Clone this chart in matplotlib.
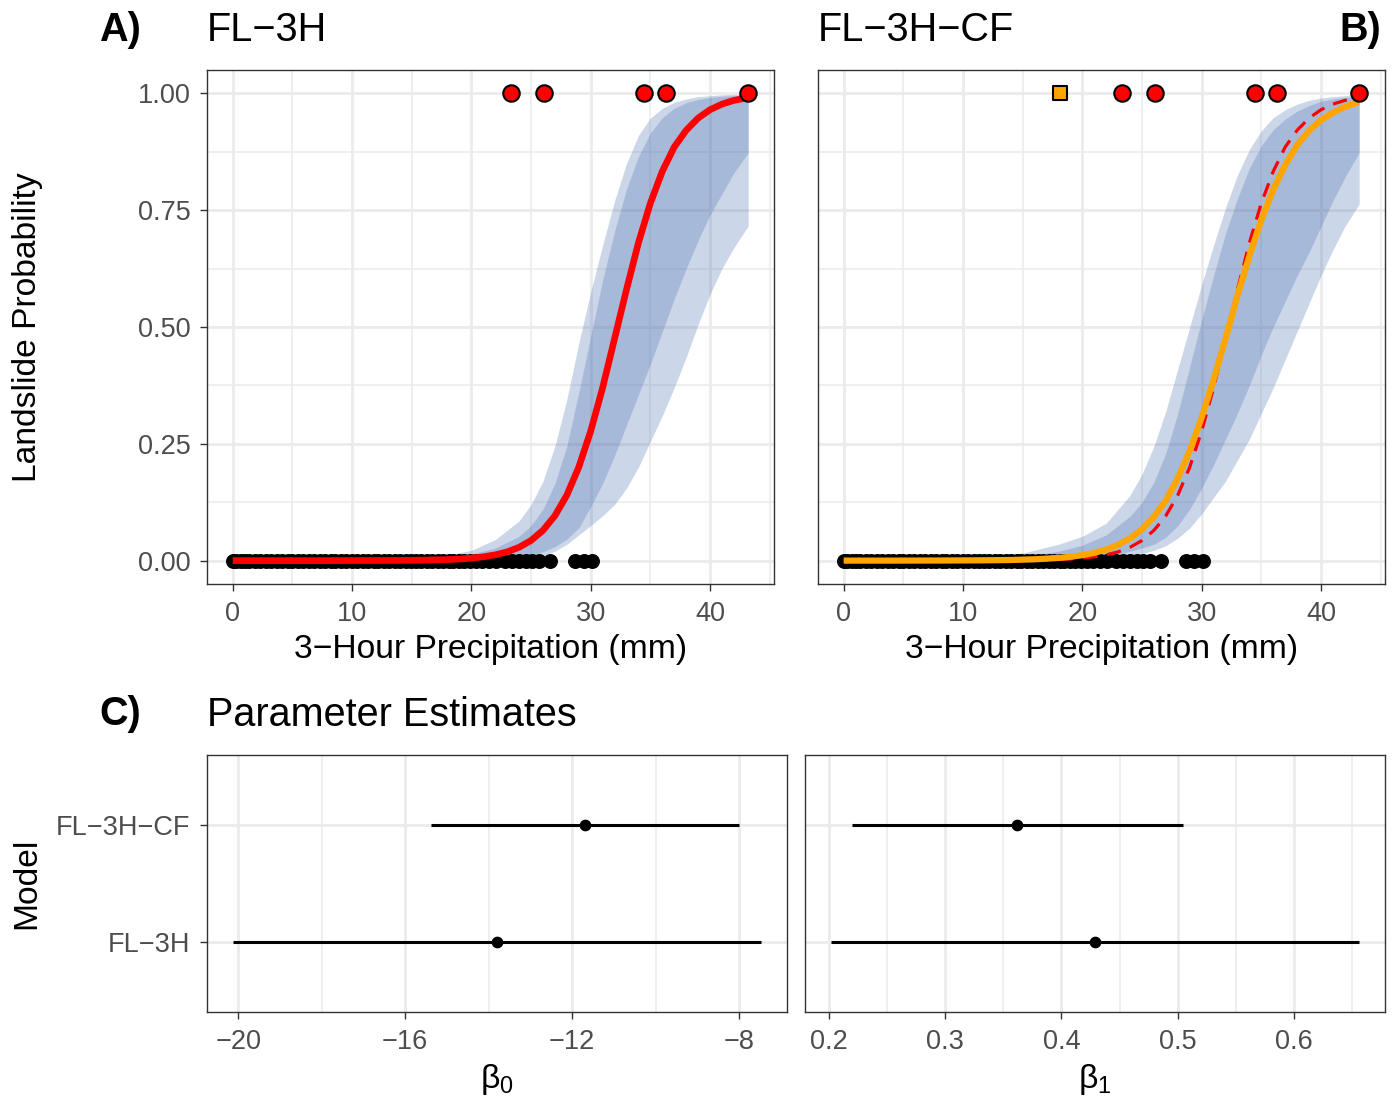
import numpy as np
import matplotlib
matplotlib.use("Agg")
import matplotlib.pyplot as plt
from matplotlib.ticker import MultipleLocator, FormatStrFormatter

plt.rcParams['font.family'] = ['Liberation Sans', 'DejaVu Sans']
plt.rcParams['mathtext.fontset'] = 'custom'
plt.rcParams['mathtext.rm'] = 'Liberation Sans'
plt.rcParams['mathtext.it'] = 'Liberation Sans:italic'
plt.rcParams['mathtext.bf'] = 'Liberation Sans:bold'

# ---- observations (3-hour precipitation, mm) ----
no_slide_precip = [0.0, 0.3, 0.7, 1.0, 1.4, 1.9, 2.3, 2.8, 3.2, 3.7, 4.1, 4.6, 5.0,
                   5.5, 5.9, 6.4, 6.8, 7.3, 7.7, 8.2, 8.6, 9.1, 9.5, 10.0, 10.4,
                   10.9, 11.3, 11.8, 12.2, 12.7, 13.1, 13.6, 14.0, 14.5, 14.9,
                   15.4, 15.8, 16.3, 16.7, 17.2, 17.6, 18.1, 18.5, 19.0, 19.4,
                   19.9, 20.4, 20.9, 21.5, 22.1, 22.8, 23.4, 24.0, 24.6, 25.1,
                   25.7, 26.6, 28.7, 29.4, 30.1]
slide_precip = [23.3, 26.05, 34.5, 36.3, 43.2]
cf_precip = [18.1]

# ---- fitted probability curves ----
curve_x = [0, 4, 8, 12, 14, 16, 18, 19, 20, 21, 22, 23, 24, 25, 26, 27, 28,
           29, 30, 31, 32, 33, 34, 35, 36, 37, 38, 39, 40, 41, 42, 43, 43.2]
fit_3h = [0.0, 0.0, 0.0, 0.0002, 0.0004, 0.001, 0.0022, 0.0034, 0.0053, 0.0081,
          0.0124, 0.0187, 0.0285, 0.0431, 0.0647, 0.096, 0.14, 0.2, 0.277, 0.37,
          0.475, 0.58, 0.68, 0.765, 0.833, 0.885, 0.921, 0.947, 0.965, 0.977,
          0.985, 0.99, 0.991]
fit_3h_cf = [0.0, 0.0, 0.0002, 0.0007, 0.0013, 0.0028, 0.0057, 0.0082, 0.0117,
             0.0166, 0.0237, 0.0339, 0.0478, 0.0672, 0.0937, 0.129, 0.176, 0.235,
             0.306, 0.387, 0.475, 0.567, 0.652, 0.729, 0.794, 0.847, 0.889, 0.92,
             0.943, 0.959, 0.971, 0.98, 0.981]

# ---- credible bands ----
band_x = [0, 5, 10, 15, 18, 20, 22, 24, 25, 26, 27, 28, 29, 30, 31, 32, 33, 34,
          35, 36, 37, 38, 39, 40, 41, 42, 43.2]
a_outer_hi = [0.0, 0.0005, 0.0015, 0.004, 0.012, 0.022, 0.045, 0.085, 0.12, 0.17,
              0.245, 0.345, 0.465, 0.575, 0.675, 0.77, 0.85, 0.91, 0.947, 0.968,
              0.981, 0.988, 0.993, 0.995, 0.997, 0.998, 0.999]
a_inner_hi = [0.0, 0.0002, 0.0008, 0.002, 0.008, 0.014, 0.027, 0.052, 0.075, 0.11,
              0.165, 0.245, 0.36, 0.48, 0.6, 0.705, 0.795, 0.865, 0.915, 0.948,
              0.968, 0.98, 0.987, 0.991, 0.994, 0.995, 0.997]
a_inner_lo = [0.0, 0.0, 0.0, 0.0, 0.0, 0.0005, 0.002, 0.008, 0.012, 0.019, 0.03,
              0.046, 0.07, 0.115, 0.165, 0.225, 0.29, 0.355, 0.42, 0.49, 0.56,
              0.625, 0.685, 0.74, 0.785, 0.83, 0.873]
a_outer_lo = [0.0, 0.0, 0.0, 0.0, 0.0, 0.0002, 0.001, 0.004, 0.007, 0.011, 0.02,
              0.035, 0.055, 0.075, 0.096, 0.12, 0.155, 0.2, 0.255, 0.31, 0.37,
              0.435, 0.505, 0.57, 0.625, 0.67, 0.716]

b_outer_hi = [0.0, 0.002, 0.005, 0.016, 0.035, 0.052, 0.08, 0.14, 0.185, 0.245,
              0.32, 0.41, 0.5, 0.59, 0.675, 0.755, 0.825, 0.88, 0.92, 0.948,
              0.965, 0.977, 0.985, 0.99, 0.993, 0.995, 0.997]
b_inner_hi = [0.0, 0.0, 0.002, 0.008, 0.02, 0.033, 0.055, 0.095, 0.125, 0.168,
              0.23, 0.315, 0.415, 0.515, 0.61, 0.7, 0.775, 0.84, 0.888, 0.922,
              0.945, 0.962, 0.974, 0.983, 0.988, 0.991, 0.994]
b_inner_lo = [0.0, 0.0, 0.0, 0.0, 0.0, 0.002, 0.008, 0.02, 0.027, 0.035, 0.05,
              0.075, 0.11, 0.155, 0.205, 0.26, 0.315, 0.375, 0.44, 0.5, 0.555,
              0.61, 0.66, 0.715, 0.77, 0.82, 0.873]
b_outer_lo = [0.0, 0.0, 0.0, 0.0, 0.0, 0.001, 0.004, 0.01, 0.015, 0.022, 0.032,
              0.048, 0.07, 0.1, 0.135, 0.17, 0.215, 0.26, 0.315, 0.37, 0.43,
              0.49, 0.55, 0.61, 0.665, 0.715, 0.763]

# ---- parameter estimates ----
models = ['FL−3H', 'FL−3H−CF']
b0_mid = [-13.81, -11.68]
b0_lo = [-20.12, -15.39]
b0_hi = [-7.47, -8.0]
b1_mid = [0.429, 0.362]
b1_lo = [0.2017, 0.2198]
b1_hi = [0.656, 0.5045]

BAND = '#466BAE'
GRID = '#EBEBEB'
TXT = '#4D4D4D'
EDGE = '#333333'
TICK_FS = 19.5
LAB_FS = 24.2
TITLE_FS = 28.5


def style_axes(ax):
    ax.set_axisbelow(True)
    ax.grid(which='major', color=GRID, lw=2.0)
    ax.grid(which='minor', color=GRID, lw=1.1)
    for s in ax.spines.values():
        s.set_color(EDGE)
        s.set_linewidth(1.0)
    ax.tick_params(which='major', length=5, width=1.0, color=EDGE,
                   labelsize=TICK_FS, labelcolor=TXT, pad=7)
    ax.tick_params(which='minor', length=0)


def prob_panel(ax, outer_lo, outer_hi, inner_lo, inner_hi):
    ax.fill_between(band_x, outer_lo, outer_hi, color=BAND, alpha=0.27, lw=0, zorder=1)
    ax.fill_between(band_x, inner_lo, inner_hi, color=BAND, alpha=0.27, lw=0, zorder=1)
    ax.scatter(no_slide_precip, np.zeros(len(no_slide_precip)), s=116,
               color='black', lw=0, zorder=2)
    ax.set_xlim(-2.16, 45.36)
    ax.set_ylim(-0.05, 1.05)
    ax.xaxis.set_major_locator(MultipleLocator(10))
    ax.xaxis.set_minor_locator(MultipleLocator(5))
    ax.yaxis.set_major_locator(MultipleLocator(0.25))
    ax.yaxis.set_minor_locator(MultipleLocator(0.125))
    ax.yaxis.set_major_formatter(FormatStrFormatter('%.2f'))
    ax.set_xlabel('3−Hour Precipitation (mm)', fontsize=LAB_FS, labelpad=5)
    style_axes(ax)


fig = plt.figure(figsize=(13.92, 11.01), dpi=100)

# Panel A
axA = fig.add_axes([0.1487, 0.4696, 0.4073, 0.4668])
prob_panel(axA, a_outer_lo, a_outer_hi, a_inner_lo, a_inner_hi)
axA.plot(curve_x, fit_3h, color='red', lw=4.8, solid_capstyle='butt', zorder=3)
axA.scatter(slide_precip, np.ones(len(slide_precip)), s=140, color='red',
            edgecolor='black', lw=1.5, zorder=4)

# Panel B
axB = fig.add_axes([0.5876, 0.4696, 0.4073, 0.4668])
prob_panel(axB, b_outer_lo, b_outer_hi, b_inner_lo, b_inner_hi)
axB.plot(curve_x, fit_3h, color='red', lw=2.3, dashes=(4.5, 3), zorder=3)
axB.plot(curve_x, fit_3h_cf, color='orange', lw=4.5, solid_capstyle='butt', zorder=3)
axB.scatter(slide_precip, np.ones(len(slide_precip)), s=140, color='red',
            edgecolor='black', lw=1.5, zorder=4)
axB.scatter(cf_precip, np.ones(len(cf_precip)), s=110, marker='s', color='orange',
            edgecolor='black', lw=1.5, zorder=4)
axB.set_yticklabels([])
axB.tick_params(axis='y', which='major', length=0)

# Panel C
ypos = np.arange(len(models))
axC1 = fig.add_axes([0.1487, 0.0808, 0.4167, 0.2334])
axC1.hlines(ypos, b0_lo, b0_hi, color='black', lw=2.2, zorder=2)
axC1.scatter(b0_mid, ypos, s=55, color='black', zorder=3)
axC1.set_xlim(-20.75, -6.85)
axC1.xaxis.set_major_locator(MultipleLocator(4))
axC1.xaxis.set_minor_locator(MultipleLocator(2))
axC1.set_yticks(ypos)
axC1.set_yticklabels(models)
axC1.set_ylim(-0.6, 1.6)
axC1.set_xlabel(r'$\mathrm{\beta}_\mathrm{0}$', fontsize=LAB_FS, labelpad=5)
style_axes(axC1)

axC2 = fig.add_axes([0.5783, 0.0808, 0.4167, 0.2334])
axC2.hlines(ypos, b1_lo, b1_hi, color='black', lw=2.2, zorder=2)
axC2.scatter(b1_mid, ypos, s=55, color='black', zorder=3)
axC2.set_xlim(0.1794, 0.6783)
axC2.xaxis.set_major_locator(MultipleLocator(0.1))
axC2.xaxis.set_minor_locator(MultipleLocator(0.05))
axC2.xaxis.set_major_formatter(FormatStrFormatter('%.1f'))
axC2.set_yticks(ypos)
axC2.set_yticklabels([])
axC2.set_ylim(-0.6, 1.6)
axC2.set_xlabel(r'$\mathrm{\beta}_\mathrm{1}$', fontsize=LAB_FS, labelpad=5)
style_axes(axC2)
axC2.tick_params(axis='y', which='major', length=0)

# y titles aligned across rows
fig.text(0.0194, 0.703, 'Landslide Probability', fontsize=LAB_FS, rotation=90,
         ha='center', va='center')
fig.text(0.0194, 0.198, 'Model', fontsize=LAB_FS, rotation=90,
         ha='center', va='center')

# titles and panel tags
fig.text(0.0862, 0.9728, 'A)', fontsize=TITLE_FS, fontweight='bold', ha='center', va='center')
fig.text(0.1487, 0.9728, 'FL−3H', fontsize=TITLE_FS, ha='left', va='center')
fig.text(0.5876, 0.9728, 'FL−3H−CF', fontsize=TITLE_FS, ha='left', va='center')
fig.text(0.9925, 0.9728, 'B)', fontsize=TITLE_FS, fontweight='bold', ha='right', va='center')
fig.text(0.0862, 0.3515, 'C)', fontsize=TITLE_FS, fontweight='bold', ha='center', va='center')
fig.text(0.1487, 0.3506, 'Parameter Estimates', fontsize=TITLE_FS, ha='left', va='center')

fig.savefig('out.png', dpi=100)
